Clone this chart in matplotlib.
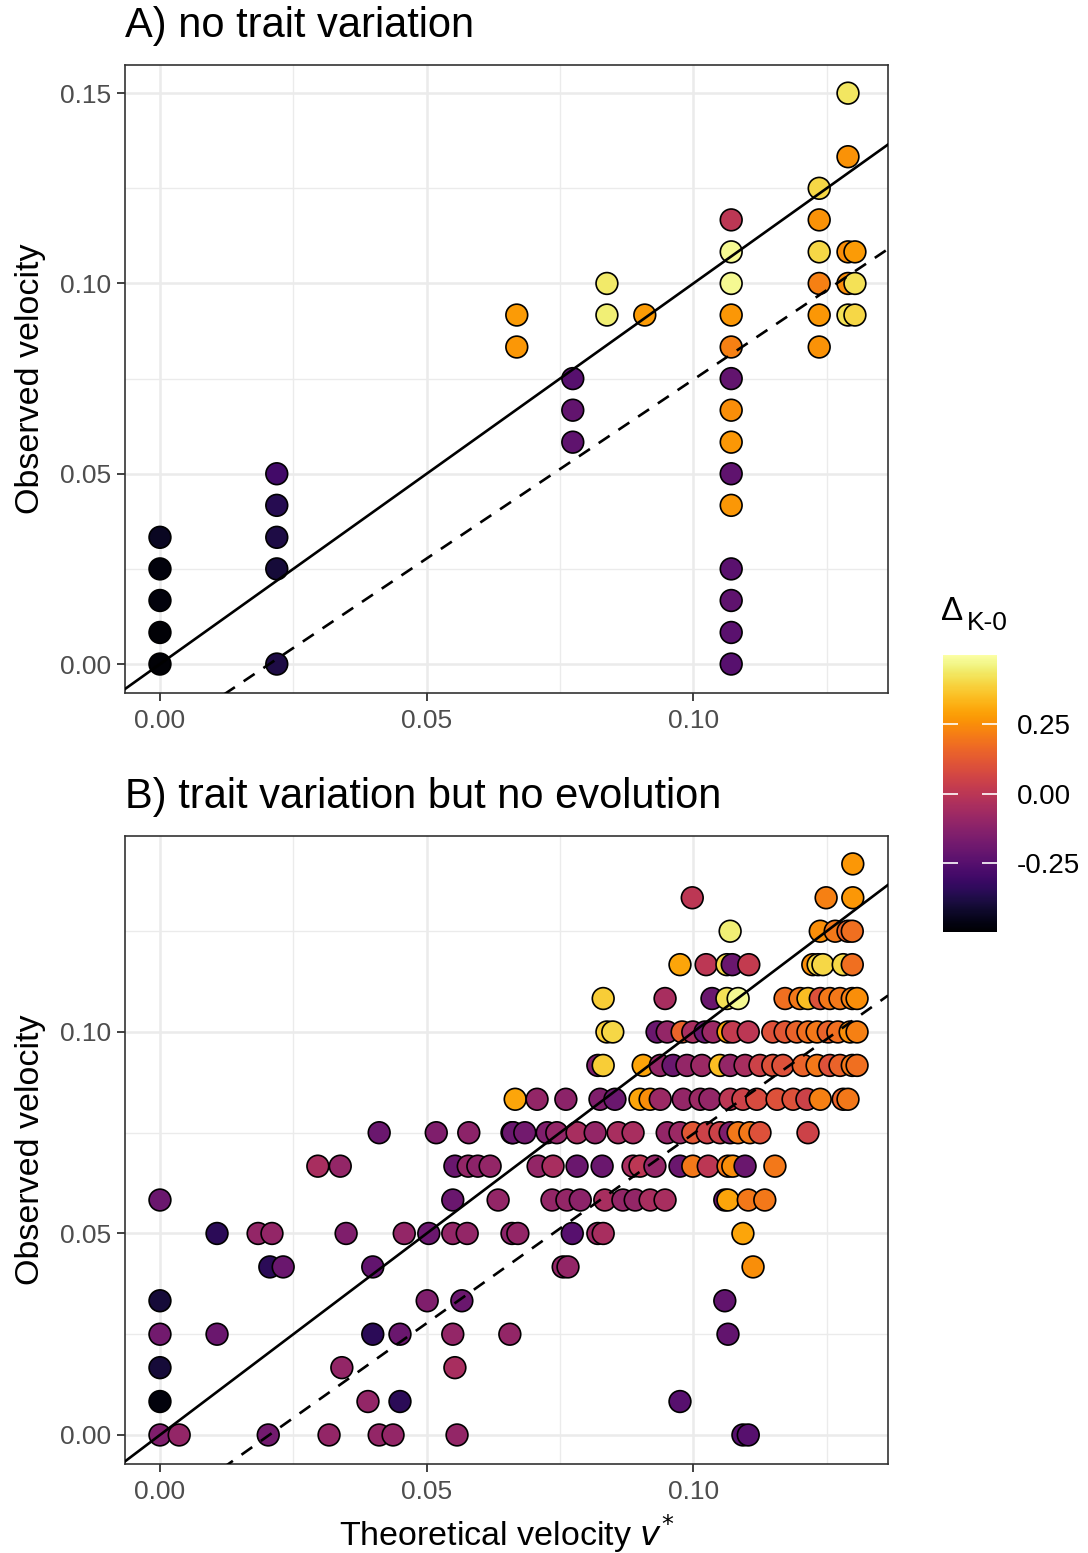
import matplotlib
matplotlib.use("Agg")
import matplotlib.pyplot as plt
import numpy as np
from matplotlib.colors import Normalize
from matplotlib.cm import ScalarMappable

plt.rcParams['font.family'] = ['Liberation Sans', 'DejaVu Sans']

# ---------------- data ----------------
# Panel A: no trait variation
a_x = [0.0, 0.0, 0.0, 0.0, 0.0,
       0.0219, 0.0219, 0.0219, 0.0219, 0.0219,
       0.0669, 0.0669,
       0.0774, 0.0774, 0.0774,
       0.0838, 0.0838,
       0.0909,
       0.1071, 0.1071, 0.1071, 0.1071, 0.1071, 0.1071, 0.1071, 0.1071, 0.1071,
       0.1071, 0.1071, 0.1071, 0.1071, 0.1071,
       0.1236, 0.1236, 0.1236, 0.1236, 0.1236, 0.1236,
       0.1290, 0.1290, 0.1290, 0.1290, 0.1290,
       0.1303, 0.1303, 0.1303]
a_y = [0.0, 0.0083, 0.0167, 0.025, 0.0333,
       0.0, 0.025, 0.0333, 0.0417, 0.05,
       0.0833, 0.0917,
       0.0583, 0.0667, 0.075,
       0.0917, 0.1,
       0.0917,
       0.0, 0.0083, 0.0167, 0.025, 0.0417, 0.05, 0.0583, 0.0667, 0.075,
       0.0833, 0.0917, 0.1, 0.1083, 0.1167,
       0.0833, 0.0917, 0.1, 0.1083, 0.1167, 0.125,
       0.0917, 0.1, 0.1083, 0.1333, 0.15,
       0.0917, 0.1, 0.1083]
a_delta = [-0.49, -0.49, -0.48, -0.48, -0.44,
           -0.38, -0.40, -0.38, -0.36, -0.30,
           0.27, 0.28,
           -0.23, -0.22, -0.25,
           0.45, 0.44,
           0.28,
           -0.25, -0.24, -0.23, -0.24, 0.27, -0.23, 0.27, 0.25, -0.22,
           0.22, 0.27, 0.48, 0.48, 0.0,
           0.26, 0.27, 0.22, 0.40, 0.26, 0.40,
           0.42, 0.25, 0.25, 0.26, 0.43,
           0.40, 0.42, 0.28]

# Panel B: trait variation but no evolution (rows of observed velocity)
b_x = [
    # 0.1417
    0.1299,
    # 0.1333
    0.0998, 0.1249, 0.1299,
    # 0.125
    0.1069, 0.1238, 0.1266, 0.1290, 0.1298,
    # 0.1167
    0.0975, 0.1024, 0.1063, 0.1073, 0.1104, 0.1224, 0.1234, 0.1243, 0.1281, 0.1298,
    # 0.1083
    0.0831, 0.0947, 0.1035, 0.1063, 0.1084, 0.1172, 0.1200, 0.1215, 0.1238, 0.1256,
    0.1275, 0.1298, 0.1307,
    # 0.1
    0.0838, 0.0849, 0.0932, 0.0951, 0.0979, 0.0999, 0.1022, 0.1037, 0.1065, 0.1074,
    0.1103, 0.1149, 0.1172, 0.1194, 0.1215, 0.1232, 0.1253, 0.1271, 0.1294, 0.1307,
    # 0.0917
    0.0821, 0.0831, 0.0906, 0.0938, 0.0962, 0.0988, 0.1016, 0.1050, 0.1069, 0.1097,
    0.1125, 0.1149, 0.1168, 0.1206, 0.1232, 0.1256, 0.1275, 0.1298, 0.1307,
    # 0.0833
    0.0666, 0.0707, 0.0761, 0.0825, 0.0853, 0.0900, 0.0919, 0.0938, 0.0981, 0.1013,
    0.1031, 0.1069, 0.1093, 0.1119, 0.1157, 0.1187, 0.1213, 0.1238, 0.1281, 0.1290,
    # 0.075
    0.0411, 0.0518, 0.0579, 0.0660, 0.0662, 0.0684, 0.0726, 0.0744, 0.0782, 0.0816,
    0.0859, 0.0887, 0.0951, 0.0975, 0.0999, 0.1026, 0.1050, 0.1069, 0.1084, 0.1106,
    0.1125, 0.1215,
    # 0.0667
    0.0296, 0.0338, 0.0553, 0.0578, 0.0596, 0.0619, 0.0709, 0.0737, 0.0782, 0.0829,
    0.0887, 0.0900, 0.0928, 0.0975, 0.0999, 0.1028, 0.1065, 0.1074, 0.1097, 0.1153,
    # 0.0583
    0.0, 0.0549, 0.0634, 0.0735, 0.0763, 0.0788, 0.0834, 0.0868, 0.0891, 0.0919,
    0.0947, 0.1059, 0.1065, 0.1103, 0.1134,
    # 0.05
    0.0107, 0.0184, 0.0210, 0.0349, 0.0458, 0.0504, 0.0549, 0.0576, 0.0660, 0.0671,
    0.0773, 0.0821, 0.0831, 0.1093,
    # 0.0417
    0.0206, 0.0231, 0.0399, 0.0756, 0.0765, 0.1112,
    # 0.0333
    0.0, 0.0501, 0.0566, 0.1059,
    # 0.025
    0.0, 0.0107, 0.0399, 0.0450, 0.0549, 0.0656, 0.1065,
    # 0.0167
    0.0, 0.0341, 0.0553,
    # 0.0083
    0.0, 0.0390, 0.0450, 0.0975,
    # 0.0
    0.0, 0.0036, 0.0203, 0.0317, 0.0411, 0.0437, 0.0557, 0.1093, 0.1103,
]
b_y = (
    [0.1417] * 1 + [0.1333] * 3 + [0.125] * 5 + [0.1167] * 10 + [0.1083] * 13 +
    [0.1] * 20 + [0.0917] * 19 + [0.0833] * 20 + [0.075] * 22 + [0.0667] * 20 +
    [0.0583] * 15 + [0.05] * 14 + [0.0417] * 6 + [0.0333] * 4 + [0.025] * 7 +
    [0.0167] * 3 + [0.0083] * 4 + [0.0] * 9
)
b_delta = [
    # 0.1417
    0.27,
    # 0.1333
    0.0, 0.22, 0.27,
    # 0.125
    0.45, 0.25, 0.20, 0.15, 0.18,
    # 0.1167
    0.30, 0.0, 0.40, -0.20, 0.02, 0.25, 0.40, 0.40, 0.40, 0.18,
    # 0.1083
    0.38, -0.05, -0.20, 0.42, 0.48, 0.18, 0.20, 0.35, 0.10, 0.20,
    0.20, 0.22, 0.25,
    # 0.1
    0.38, 0.40, -0.20, -0.10, 0.15, -0.05, -0.20, -0.08, 0.30, 0.02,
    0.0, 0.10, 0.12, 0.15, 0.18, 0.20, 0.15, 0.18, 0.25, 0.22,
    # 0.0917
    -0.15, 0.38, 0.30, -0.10, -0.20, -0.10, -0.08, 0.35, -0.10, -0.05,
    0.05, 0.10, 0.10, 0.15, 0.20, 0.10, 0.15, 0.20, 0.18,
    # 0.0833
    0.30, -0.10, -0.12, -0.15, -0.20, 0.30, 0.25, -0.08, -0.10, -0.08,
    -0.10, 0.0, 0.05, 0.08, 0.10, 0.10, 0.05, 0.22, 0.15, 0.20,
    # 0.075
    -0.20, -0.15, -0.12, -0.15, -0.20, -0.18, -0.15, -0.10, -0.05, -0.10,
    -0.05, -0.05, -0.10, -0.08, 0.12, 0.05, 0.05, -0.15, 0.20, 0.20,
    0.10, 0.05,
    # 0.0667
    -0.05, -0.10, -0.20, -0.10, -0.12, -0.10, -0.10, -0.05, -0.20, -0.20,
    -0.05, 0.0, -0.10, -0.20, 0.20, 0.0, 0.20, 0.25, -0.20, 0.20,
    # 0.0583
    -0.20, -0.20, -0.10, -0.10, -0.10, -0.12, -0.05, -0.10, -0.10, -0.05,
    -0.05, -0.20, 0.30, 0.20, 0.20,
    # 0.05
    -0.35, -0.10, -0.10, -0.15, -0.10, -0.20, -0.10, -0.10, -0.12, -0.10,
    -0.25, -0.08, -0.05, 0.30,
    # 0.0417
    -0.35, -0.20, -0.22, -0.10, -0.10, 0.25,
    # 0.0333
    -0.40, -0.15, -0.20, -0.22,
    # 0.025
    -0.18, -0.20, -0.35, -0.20, -0.10, -0.10, -0.22,
    # 0.0167
    -0.40, -0.10, -0.05,
    # 0.0083
    -0.48, -0.10, -0.35, -0.25,
    # 0.0
    -0.15, -0.10, -0.18, -0.10, -0.10, -0.10, -0.10, -0.25, -0.25,
]

# reference lines
one_to_one_slope = 1.0
dashed_intercept_x = 0.0205
dashed_slope = 0.94

x_ticks = [0.0, 0.05, 0.10]
x_ticklabels = ["0.00", "0.05", "0.10"]
a_yticks = [0.0, 0.05, 0.10, 0.15]
a_yticklabels = ["0.00", "0.05", "0.10", "0.15"]
b_yticks = [0.0, 0.05, 0.10]
b_yticklabels = ["0.00", "0.05", "0.10"]
cbar_ticks = [-0.25, 0.0, 0.25]
cbar_ticklabels = ["-0.25", "0.00", "0.25"]

# ---------------- figure ----------------
W, H = 1088, 1553
fig = plt.figure(figsize=(W / 100, H / 100), dpi=100)

def fx(px):
    return px / W

def fy(py):
    return 1 - py / H

cmap = plt.get_cmap('inferno')
norm = Normalize(vmin=-0.5, vmax=0.5)
grid_col = '#ebebeb'
xlim = (-0.0065, 0.1365)

def style_axes(ax, ylim, yticks, yticklabels, minor_y):
    ax.set_xlim(*xlim)
    ax.set_ylim(*ylim)
    ax.set_xticks(x_ticks)
    ax.set_xticklabels(x_ticklabels)
    ax.set_yticks(yticks)
    ax.set_yticklabels(yticklabels)
    ax.set_xticks([0.025, 0.075, 0.125], minor=True)
    ax.set_yticks(minor_y, minor=True)
    ax.tick_params(which='minor', length=0)
    ax.tick_params(which='major', direction='out', length=6, width=1.3,
                   color='#333333', labelcolor='#4d4d4d', labelsize=19, pad=4)
    ax.tick_params(axis='x', which='major', pad=6)
    ax.grid(which='major', color=grid_col, linewidth=1.8, zorder=0)
    ax.grid(which='minor', color=grid_col, linewidth=1.0, zorder=0)
    ax.set_axisbelow(True)
    for s in ax.spines.values():
        s.set_color('#333333')
        s.set_linewidth(1.2)
    ax.set_ylabel('Observed velocity', fontsize=24.5, labelpad=10)

def draw_lines(ax):
    xs = np.array(xlim)
    ax.plot(xs, one_to_one_slope * xs, color='black', lw=1.9, zorder=4)
    ax.plot(xs, dashed_slope * (xs - dashed_intercept_x), color='black', lw=1.9,
            ls=(0, (5, 4)), zorder=4)

# Panel A
axA = fig.add_axes([fx(125.3), fy(692.6), fx(762.7), 628 / H])
style_axes(axA, (-0.0075, 0.1575), a_yticks, a_yticklabels, [0.025, 0.075, 0.125])
axA.scatter(a_x, a_y, c=a_delta, cmap=cmap, norm=norm, s=245,
            edgecolors='black', linewidths=1.2, zorder=3)
draw_lines(axA)
fig.text(fx(125), fy(26), 'A) no trait variation', fontsize=30, va='center', ha='left')

# Panel B
axB = fig.add_axes([fx(125.3), fy(1463.5), fx(762.7), 628 / H])
style_axes(axB, (-0.00708, 0.14875), b_yticks, b_yticklabels, [0.025, 0.075, 0.125])
axB.scatter(b_x, b_y, c=b_delta, cmap=cmap, norm=norm, s=245,
            edgecolors='black', linewidths=1.2, zorder=3)
draw_lines(axB)
fig.text(fx(125), fy(797), 'B) trait variation but no evolution', fontsize=30,
         va='center', ha='left')
axB.set_xlabel(r'Theoretical velocity $v^{*}$', fontsize=24.5, labelpad=6)

# Colorbar
cax = fig.add_axes([fx(943), fy(932), fx(54), 277 / H])
sm = ScalarMappable(norm=norm, cmap=cmap)
cb = fig.colorbar(sm, cax=cax)
cb.outline.set_visible(False)
cb.set_ticks(cbar_ticks)
cb.set_ticklabels(cbar_ticklabels)
cax.tick_params(left=True, right=True, labelleft=False, labelright=True,
                direction='in', length=11, width=1.2, color='white',
                labelcolor='black', labelsize=20, pad=14)
fig.text(fx(941), fy(612), '\u0394', fontsize=24, va='center', ha='left')
fig.text(fx(967), fy(623), 'K-0', fontsize=19, va='center', ha='left')

fig.savefig('out.png', dpi=100)
